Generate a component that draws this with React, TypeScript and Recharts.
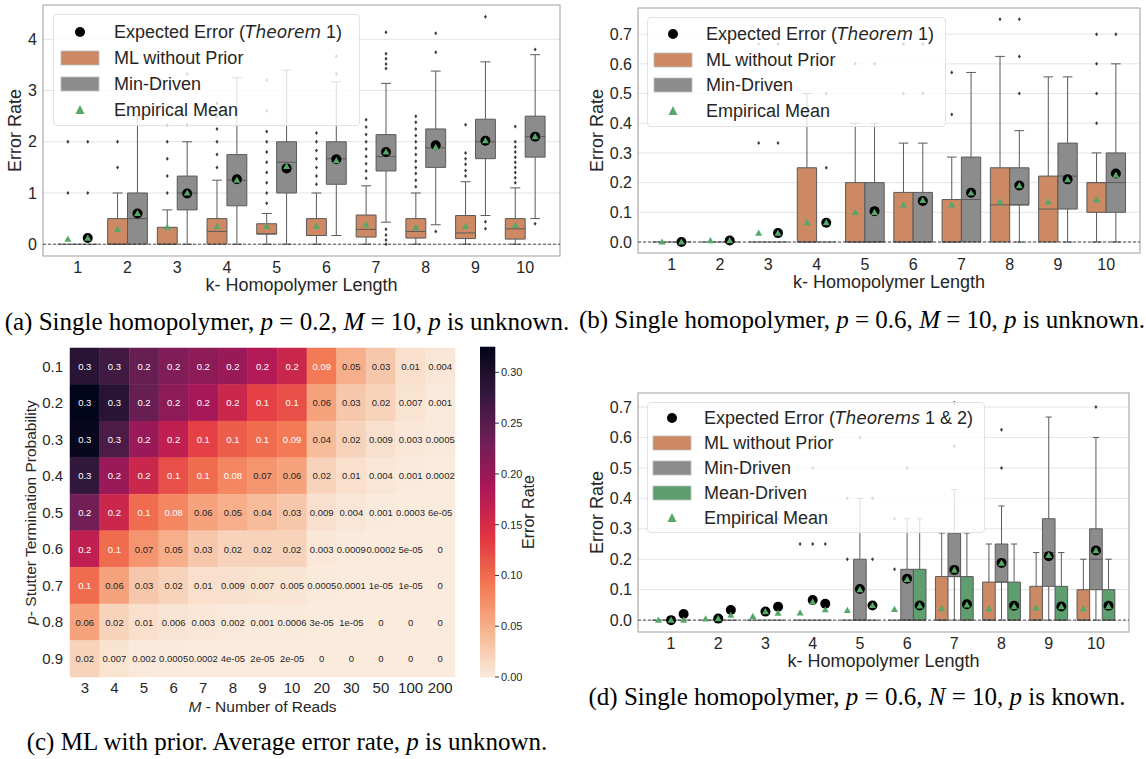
import React from 'react';
import {
  ComposedChart,
  XAxis,
  YAxis,
  CartesianGrid,
  Scatter,
  ReferenceArea,
  ReferenceLine,
  Label,
} from 'recharts';

const kLengths = [1, 2, 3, 4, 5, 6, 7, 8, 9, 10];

// each box row: [lower whisker, q1, median, q3, upper whisker]

// (a) p = 0.2, M = 10
const aMlBoxes = [
  [0, 0, 0, 0, 0], [0, 0, 0, 0.5, 1.0], [0, 0, 0, 0.33, 0.67], [0, 0, 0.25, 0.5, 1.25], [0, 0.2, 0.2, 0.4, 0.6],
  [0, 0.17, 0.17, 0.5, 1.0], [0, 0.14, 0.29, 0.57, 1.14], [0, 0.12, 0.25, 0.5, 1.0], [0, 0.11, 0.22, 0.56, 1.22], [0, 0.1, 0.3, 0.5, 1.1],
];
const aMlOutliers = [
  [1, 2], [1.5, 2, 2.5], [1, 1.33, 1.67, 2, 2.33], [1.5, 1.75, 2, 2.25, 2.5, 2.75],
  [0.8, 1.0, 1.2, 1.4, 1.6, 1.8, 2.0, 2.2, 2.6, 3.2],
  [1.17, 1.33, 1.5, 1.67, 1.83, 2.0, 2.17],
  [1.29, 1.43, 1.57, 1.71, 1.86, 2.0, 2.14, 2.29, 2.43],
  [1.12, 1.25, 1.38, 1.5, 1.62, 1.75, 1.88, 2.0, 2.12, 2.25, 2.38, 2.5],
  [1.33, 1.44, 1.56, 1.67, 1.78, 2.33],
  [1.2, 1.3, 1.4, 1.5, 1.6, 1.7, 1.8, 1.9, 2.0, 2.3],
];
const aMlMeans = [0.1, 0.29, 0.33, 0.35, 0.35, 0.35, 0.38, 0.33, 0.35, 0.37];
const aMinBoxes = [
  [0, 0, 0, 0, 0], [0, 0, 0.5, 1.0, 2.5], [0, 0.67, 1.0, 1.33, 2.0], [0, 0.75, 1.25, 1.75, 3.25], [0, 1.0, 1.6, 2.0, 3.4],
  [0.17, 1.17, 1.67, 2.0, 3.17], [0.43, 1.43, 1.71, 2.14, 3.14], [0.38, 1.5, 1.88, 2.25, 3.38], [0.56, 1.67, 2.0, 2.44, 3.56], [0.5, 1.7, 2.1, 2.5, 3.7],
];
const aMinOutliers = [
  [1, 2], [], [2.33, 3.33], [], [], [3.33, 3.67],
  [0.0, 0.08, 0.18, 0.29, 3.43, 3.52, 3.62, 3.72, 4.14],
  [0.25, 3.75, 4.12], [0.3, 0.44, 4.44], [0.4, 3.8],
];
const aMinMeans = [0.12, 0.6, 1.0, 1.25, 1.52, 1.63, 1.8, 1.89, 2.02, 2.1];
const aMinExpected = [0.12, 0.6, 0.99, 1.27, 1.48, 1.66, 1.8, 1.93, 2.02, 2.1];

// (b) p = 0.6, M = 10
const bMlBoxes = [
  [0, 0, 0, 0, 0], [0, 0, 0, 0, 0], [0, 0, 0, 0, 0], [0, 0, 0, 0.25, 0.5], [0, 0, 0, 0.2, 0.4],
  [0, 0, 0, 0.167, 0.333], [0, 0, 0, 0.143, 0.286], [0, 0, 0.125, 0.25, 0.625], [0, 0, 0.111, 0.222, 0.556], [0, 0.1, 0.2, 0.2, 0.3],
];
const bMlOutliers = [[], [], [0.333, 0.667], [], [0.6], [0.5, 0.667], [0.429, 0.571], [0.75], [], [0.4, 0.5, 0.6, 0.7]];
const bMlMeans = [0, 0.005, 0.03, 0.065, 0.1, 0.125, 0.125, 0.135, 0.135, 0.142];
const bMinBoxes = [
  [0, 0, 0, 0, 0], [0, 0, 0, 0, 0], [0, 0, 0, 0, 0], [0, 0, 0, 0, 0], [0, 0, 0, 0.2, 0.4],
  [0, 0, 0, 0.167, 0.333], [0, 0, 0.143, 0.286, 0.571], [0, 0.125, 0.125, 0.25, 0.375], [0, 0.111, 0.222, 0.333, 0.556], [0, 0.1, 0.2, 0.3, 0.6],
];
const bMinOutliers = [[], [], [0.333, 0.667], [0.25, 0.5], [0.6], [0.5, 0.667], [], [0.5, 0.625, 0.75], [], [0.7]];
const bMinMeans = [0, 0.005, 0.03, 0.065, 0.1, 0.14, 0.165, 0.19, 0.21, 0.225];
const bMinExpected = [0, 0.005, 0.03, 0.065, 0.104, 0.138, 0.166, 0.19, 0.211, 0.231];

// (d) p = 0.6, N = 10, p known
const dMlBoxes = [
  [0, 0, 0, 0, 0], [0, 0, 0, 0, 0], [0, 0, 0, 0, 0], [0, 0, 0, 0, 0], [0, 0, 0, 0, 0],
  [0, 0, 0, 0, 0], [0, 0, 0, 0.143, 0.286], [0, 0, 0, 0.125, 0.25], [0, 0, 0, 0.111, 0.222], [0, 0, 0, 0.1, 0.2],
];
const dMlOutliers = [[], [], [], [0.25], [0.2, 0.4], [0.167, 0.333], [], [], [], []];
const dMlMeans = [0, 0.004, 0.012, 0.024, 0.032, 0.035, 0.038, 0.037, 0.04, 0.038];
const dMinBoxes = [
  [0, 0, 0, 0, 0], [0, 0, 0, 0, 0], [0, 0, 0, 0, 0], [0, 0, 0, 0, 0], [0, 0, 0, 0.2, 0.4],
  [0, 0, 0, 0.167, 0.333], [0, 0.143, 0.143, 0.286, 0.429], [0, 0.125, 0.125, 0.25, 0.375], [0, 0.111, 0.222, 0.333, 0.667], [0, 0.1, 0.2, 0.3, 0.6],
];
const dMinOutliers = [[], [], [0.333], [0.25, 0.5], [0.6], [0.5], [0.571, 0.714], [0.5, 0.625], [], [0.7]];
const dMinMeans = [0, 0.005, 0.028, 0.06, 0.1, 0.134, 0.164, 0.187, 0.213, 0.228];
const dMinExpected = [0, 0.005, 0.028, 0.066, 0.102, 0.136, 0.165, 0.188, 0.21, 0.229];
const dMeanBoxes = [
  [0, 0, 0, 0, 0], [0, 0, 0, 0, 0], [0, 0, 0, 0, 0], [0, 0, 0, 0, 0], [0, 0, 0, 0, 0],
  [0, 0, 0, 0.167, 0.333], [0, 0, 0, 0.143, 0.286], [0, 0, 0, 0.125, 0.25], [0, 0, 0, 0.111, 0.222], [0, 0, 0, 0.1, 0.2],
];
const dMeanOutliers = [[], [], [0.333], [0.25], [0.2, 0.4], [], [], [], [], []];
const dMeanMeans = [0, 0.016, 0.023, 0.034, 0.048, 0.047, 0.05, 0.045, 0.044, 0.045];
const dMeanExpected = [0.02, 0.033, 0.044, 0.054, 0.048, 0.048, 0.052, 0.047, 0.045, 0.047];

// (c) heatmap, ML with prior
const stutterP = ['0.1', '0.2', '0.3', '0.4', '0.5', '0.6', '0.7', '0.8', '0.9'];
const readCounts = ['3', '4', '5', '6', '7', '8', '9', '10', '20', '30', '50', '100', '200'];
const heatRows = [
  [0.29, 0.27, 0.24, 0.22, 0.21, 0.2, 0.18, 0.16, 0.09, 0.05, 0.03, 0.01, 0.004],
  [0.325, 0.29, 0.24, 0.21, 0.19, 0.16, 0.13, 0.12, 0.06, 0.03, 0.02, 0.007, 0.001],
  [0.32, 0.26, 0.2, 0.17, 0.13, 0.11, 0.1, 0.09, 0.04, 0.02, 0.009, 0.003, 0.0005],
  [0.28, 0.2, 0.16, 0.12, 0.1, 0.08, 0.07, 0.06, 0.02, 0.01, 0.004, 0.001, 0.0002],
  [0.23, 0.16, 0.1, 0.08, 0.06, 0.05, 0.04, 0.03, 0.009, 0.004, 0.001, 0.0003, 0.00006],
  [0.17, 0.1, 0.07, 0.05, 0.03, 0.02, 0.02, 0.02, 0.003, 0.0009, 0.0002, 0.00005, 0],
  [0.1, 0.06, 0.03, 0.02, 0.01, 0.009, 0.007, 0.005, 0.0005, 0.0001, 0.00001, 0.00001, 0],
  [0.06, 0.02, 0.01, 0.006, 0.003, 0.002, 0.001, 0.0006, 0.00003, 0.00001, 0, 0, 0],
  [0.02, 0.007, 0.002, 0.0005, 0.0002, 0.00004, 0.00002, 0.00002, 0, 0, 0, 0, 0],
];
const colorbarTicks = [0, 0.05, 0.1, 0.15, 0.2, 0.25, 0.3];

const FONT = '"Liberation Sans", Arial, sans-serif';
const SERIF = '"Liberation Serif", "Times New Roman", serif';
const TEXT = '#262626';
const ORANGE = '#cc8963';
const GRAY = '#8c8c8c';
const GREEN = '#5f9e6e';
const MEAN_GREEN = '#55a868';
const LINE = '#5a5a5a';
const X_DOMAIN = [0.3, 10.7];

// rocket palette, dark -> light
const ROCKET = ['#03051a', '#35193e', '#701f57', '#ad1759', '#e13342', '#f37651', '#f6b48f', '#faebdd'];

function hexRgb(h: string) {
  return [1, 3, 5].map((i) => parseInt(h.slice(i, i + 2), 16));
}

function rocketR(v: number, vmax: number) {
  const t = Math.min(1, Math.max(0, 1 - v / vmax)) * (ROCKET.length - 1);
  const i = Math.min(ROCKET.length - 2, Math.floor(t));
  const f = t - i;
  const a = hexRgb(ROCKET[i]);
  const b = hexRgb(ROCKET[i + 1]);
  const c = a.map((x, j) => Math.round(x + (b[j] - x) * f));
  return `rgb(${c[0]},${c[1]},${c[2]})`;
}

function luminance(rgb: string) {
  const c = rgb.match(/\d+/g)!.map((x) => {
    const s = Number(x) / 255;
    return s <= 0.03928 ? s / 12.92 : Math.pow((s + 0.055) / 1.055, 2.4);
  });
  return 0.2126 * c[0] + 0.7152 * c[1] + 0.0722 * c[2];
}

function fmt1g(v: number) {
  if (v === 0) return '0';
  const e = Math.floor(Math.log10(v) + 1e-9);
  if (e < -4) {
    const m = Math.round(v / Math.pow(10, e));
    return `${m}e-${String(-e).padStart(2, '0')}`;
  }
  return String(Number(v.toPrecision(1)));
}

const Diamond = (p: any) => (
  <path d={`M${p.cx},${p.cy - 2} L${p.cx + 1.5},${p.cy} L${p.cx},${p.cy + 2} L${p.cx - 1.5},${p.cy} Z`} fill="#3d3d3d" />
);
const BlackDot = (p: any) => <circle cx={p.cx} cy={p.cy} r={5} fill="#000" />;
const Tri = (p: any) => (
  <path d={`M${p.cx},${p.cy - 3.6} L${p.cx + 3.5},${p.cy + 2.6} L${p.cx - 3.5},${p.cy + 2.6} Z`} fill={MEAN_GREEN} />
);
const Nothing = () => <g />;

const xLabel = (children: React.ReactNode, dy: number, size: number) => (props: any) => {
  const { x, y, width } = props.viewBox;
  return (
    <text x={x + width / 2} y={y + dy} textAnchor="middle" dominantBaseline="central" fontSize={size} fill={TEXT} fontFamily={FONT}>
      {children}
    </text>
  );
};

const yLabel = (children: React.ReactNode, dx: number, size: number) => (props: any) => {
  const { x, y, height } = props.viewBox;
  const cx = x + dx;
  const cy = y + height / 2;
  return (
    <text x={cx} y={cy} transform={`rotate(-90 ${cx} ${cy})`} textAnchor="middle" dominantBaseline="central" fontSize={size} fill={TEXT} fontFamily={FONT}>
      {children}
    </text>
  );
};

type Group = { color: string; offset: number; boxes: number[][]; outliers: number[][]; means: number[]; expected?: number[] };

function BoxPanel({ left, top, width, height, margin, yAxisWidth, yDomain, yTicks, yFmt, groups, boxWidth, yLabelDx }: any) {
  const hw = boxWidth / 2;
  const lines: React.ReactNode[] = [];
  const rects: React.ReactNode[] = [];
  const medians: React.ReactNode[] = [];
  (groups as Group[]).forEach((g, gi) => {
    g.boxes.forEach(([lo, q1, med, q3, hi], i) => {
      const x = kLengths[i] + g.offset;
      if (lo < q1) {
        lines.push(<ReferenceLine key={`wl${gi}-${i}`} segment={[{ x, y: lo }, { x, y: q1 }]} stroke={LINE} strokeWidth={1} />);
        lines.push(<ReferenceLine key={`cl${gi}-${i}`} segment={[{ x: x - hw / 2, y: lo }, { x: x + hw / 2, y: lo }]} stroke={LINE} strokeWidth={1} />);
      }
      if (hi > q3) {
        lines.push(<ReferenceLine key={`wh${gi}-${i}`} segment={[{ x, y: q3 }, { x, y: hi }]} stroke={LINE} strokeWidth={1} />);
        lines.push(<ReferenceLine key={`ch${gi}-${i}`} segment={[{ x: x - hw / 2, y: hi }, { x: x + hw / 2, y: hi }]} stroke={LINE} strokeWidth={1} />);
      }
      if (q3 > q1) {
        rects.push(
          <ReferenceArea key={`b${gi}-${i}`} x1={x - hw} x2={x + hw} y1={q1} y2={q3} fill={g.color} fillOpacity={1} stroke={LINE} strokeWidth={1} ifOverflow="visible" />
        );
      }
      medians.push(<ReferenceLine key={`m${gi}-${i}`} segment={[{ x: x - hw, y: med }, { x: x + hw, y: med }]} stroke={LINE} strokeWidth={1} />);
    });
  });
  const outlierPts = (groups as Group[]).flatMap((g) => g.outliers.flatMap((vals, i) => vals.map((v) => ({ x: kLengths[i] + g.offset, y: v }))));
  const expectedPts = (groups as Group[]).flatMap((g) => (g.expected || []).map((v, i) => ({ x: kLengths[i] + g.offset, y: v })));
  const meanPts = (groups as Group[]).flatMap((g) => g.means.map((v, i) => ({ x: kLengths[i] + g.offset, y: v })));

  return (
    <div style={{ position: 'absolute', left, top }}>
      <ComposedChart width={width} height={height} margin={margin}>
        <CartesianGrid vertical={false} stroke="#e4e4e4" strokeWidth={1} />
        <XAxis
          type="number"
          dataKey="x"
          domain={X_DOMAIN}
          ticks={kLengths}
          interval={0}
          allowDataOverflow
          axisLine={false}
          tickLine={false}
          tickSize={0}
          tickMargin={6}
          height={44}
          tick={{ fontSize: 16, fill: TEXT, fontFamily: FONT }}
        >
          <Label content={xLabel('k- Homopolymer Length', 29, 18)} />
        </XAxis>
        <YAxis
          type="number"
          dataKey="y"
          domain={yDomain}
          ticks={yTicks}
          tickFormatter={yFmt}
          allowDataOverflow
          axisLine={false}
          tickLine={false}
          tickSize={0}
          tickMargin={6}
          width={yAxisWidth}
          tick={{ fontSize: 16, fill: TEXT, fontFamily: FONT }}
        >
          <Label content={yLabel('Error Rate', yLabelDx, 18)} />
        </YAxis>
        {lines}
        {rects}
        {medians}
        <ReferenceLine y={0} stroke="#222" strokeDasharray="3 2" strokeWidth={0.8} />
        <ReferenceArea x1={X_DOMAIN[0]} x2={X_DOMAIN[1]} y1={yDomain[0]} y2={yDomain[1]} fill="none" stroke="#ababab" strokeWidth={1.2} ifOverflow="visible" />
        <Scatter data={outlierPts} shape={Diamond} isAnimationActive={false} />
        <Scatter data={expectedPts} shape={BlackDot} isAnimationActive={false} />
        <Scatter data={meanPts} shape={Tri} isAnimationActive={false} />
      </ComposedChart>
    </div>
  );
}

type LegendItem = { kind: 'dot' | 'patch' | 'tri'; color?: string; label: React.ReactNode };

function LegendBox({ left, top, width, height, firstRow, rowGap, markerX, textX, items }: any) {
  return (
    <div
      style={{
        position: 'absolute', left, top, width, height, boxSizing: 'border-box',
        background: 'rgba(255,255,255,0.8)', border: '1px solid #e2e2e2', borderRadius: 4,
        fontFamily: FONT, fontSize: 18, color: TEXT,
      }}
    >
      {(items as LegendItem[]).map((it, i) => (
        <div key={i} style={{ position: 'absolute', left: 0, top: firstRow + i * rowGap - 13, height: 26, width: '100%' }}>
          <svg style={{ position: 'absolute', left: markerX - 20, top: 3 }} width={40} height={20}>
            {it.kind === 'dot' && <circle cx={20} cy={10} r={5} fill="#000" />}
            {it.kind === 'patch' && <rect x={1} y={3} width={38} height={14} fill={it.color} stroke="#bdbdbd" strokeWidth={0.8} />}
            {it.kind === 'tri' && <path d="M20,5 L24.5,14 L15.5,14 Z" fill={MEAN_GREEN} />}
          </svg>
          <span style={{ position: 'absolute', left: textX, top: 0, lineHeight: '26px', whiteSpace: 'nowrap' }}>{it.label}</span>
        </div>
      ))}
    </div>
  );
}

function Heatmap() {
  const vmax = Math.max(...heatRows.flat());
  const cells = heatRows.flatMap((row, r) => row.map((v, c) => ({ x: c, y: r, v })));
  const barSteps = Array.from({ length: 110 }, (_, i) => i);
  const tickPts = colorbarTicks.map((v) => ({ x: 0.5, y: v }));
  const HeatText = (p: any) => {
    const fill = rocketR(p.payload.v, vmax);
    const color = luminance(fill) > 0.408 ? TEXT : '#ffffff';
    return (
      <text x={p.cx} y={p.cy} textAnchor="middle" dominantBaseline="central" fontSize={9.5} fill={color} fontFamily={FONT}>
        {fmt1g(p.payload.v)}
      </text>
    );
  };
  return (
    <>
      <div style={{ position: 'absolute', left: 0, top: 330 }}>
        <ComposedChart width={460} height={392} margin={{ top: 18, right: 5, bottom: 0, left: 0 }}>
          <XAxis
            type="number"
            dataKey="x"
            domain={[-0.5, readCounts.length - 0.5]}
            ticks={readCounts.map((_, i) => i)}
            tickFormatter={(i: number) => readCounts[i]}
            interval={0}
            axisLine={false}
            tickLine={false}
            tickSize={0}
            tickMargin={5}
            height={45}
            tick={{ fontSize: 15, fill: TEXT, fontFamily: FONT }}
          >
            <Label content={xLabel(<><tspan fontStyle="italic">M</tspan> - Number of Reads</>, 29, 15.5)} />
          </XAxis>
          <YAxis
            type="number"
            dataKey="y"
            reversed
            domain={[-0.5, stutterP.length - 0.5]}
            ticks={stutterP.map((_, i) => i)}
            tickFormatter={(i: number) => stutterP[i]}
            interval={0}
            axisLine={false}
            tickLine={false}
            tickSize={0}
            tickMargin={7}
            width={70}
            tick={{ fontSize: 15, fill: TEXT, fontFamily: FONT }}
          >
            <Label content={yLabel(<><tspan fontStyle="italic">p</tspan>- Stutter Termination Probability</>, 30, 15.5)} />
          </YAxis>
          {cells.map((c) => {
            const fill = rocketR(c.v, vmax);
            return (
              <ReferenceArea
                key={`h${c.x}-${c.y}`}
                x1={c.x - 0.5}
                x2={c.x + 0.5}
                y1={c.y - 0.5}
                y2={c.y + 0.5}
                fill={fill}
                fillOpacity={1}
                stroke={fill}
                strokeWidth={0.5}
                ifOverflow="visible"
              />
            );
          })}
          <Scatter data={cells} shape={HeatText} isAnimationActive={false} />
        </ComposedChart>
      </div>
      <div style={{ position: 'absolute', left: 480, top: 330 }}>
        <ComposedChart width={80} height={392} margin={{ top: 17, right: 0, bottom: 45, left: 0 }}>
          <XAxis type="number" dataKey="x" domain={[0, 1]} allowDataOverflow hide />
          <YAxis
            type="number"
            dataKey="y"
            orientation="right"
            domain={[0, vmax]}
            ticks={colorbarTicks}
            tickFormatter={(v: number) => v.toFixed(2)}
            allowDataOverflow
            axisLine={false}
            tickLine={{ stroke: '#333' }}
            tickSize={4}
            tickMargin={2}
            width={65}
            tick={{ fontSize: 11, fill: TEXT, fontFamily: FONT }}
          >
            <Label content={yLabel('Error Rate', 33, 16)} />
          </YAxis>
          {barSteps.map((s) => {
            const y1 = (vmax * s) / barSteps.length;
            const y2 = (vmax * (s + 1)) / barSteps.length;
            const fill = rocketR((y1 + y2) / 2, vmax);
            return (
              <ReferenceArea key={`cb${s}`} x1={0} x2={1} y1={y1} y2={y2} fill={fill} fillOpacity={1} stroke={fill} strokeWidth={0.6} ifOverflow="visible" />
            );
          })}
          <Scatter data={tickPts} shape={Nothing} isAnimationActive={false} />
        </ComposedChart>
      </div>
    </>
  );
}

function Caption({ cx, cy, children }: any) {
  return (
    <div
      style={{
        position: 'absolute', left: cx - 320, top: cy - 15, width: 640, textAlign: 'center',
        fontFamily: SERIF, fontSize: 25, lineHeight: '30px', whiteSpace: 'nowrap', color: '#000',
      }}
    >
      {children}
    </div>
  );
}

const I = ({ children }: any) => <span style={{ fontStyle: 'italic' }}>{children}</span>;
const MathIt = ({ children }: any) => <span style={{ fontStyle: 'italic', fontFamily: '"DejaVu Sans", sans-serif', fontSize: 17 }}>{children}</span>;

export default function App() {
  const legend3: LegendItem[] = [
    { kind: 'dot', label: <>Expected Error (<MathIt>Theorem</MathIt> 1)</> },
    { kind: 'patch', color: ORANGE, label: 'ML without Prior' },
    { kind: 'patch', color: GRAY, label: 'Min-Driven' },
    { kind: 'tri', label: 'Empirical Mean' },
  ];
  const legend4: LegendItem[] = [
    { kind: 'dot', label: <>Expected Error (<MathIt>Theorems</MathIt> 1 &amp; 2)</> },
    { kind: 'patch', color: ORANGE, label: 'ML without Prior' },
    { kind: 'patch', color: GRAY, label: 'Min-Driven' },
    { kind: 'patch', color: GREEN, label: 'Mean-Driven' },
    { kind: 'tri', label: 'Empirical Mean' },
  ];
  const fmt1 = (v: number) => v.toFixed(1);
  const tenths = [0, 0.1, 0.2, 0.3, 0.4, 0.5, 0.6, 0.7];

  return (
    <div style={{ position: 'absolute', left: 0, top: 0, width: 1146, height: 759, background: '#fff', overflow: 'hidden' }}>
      <BoxPanel
        left={0}
        top={0}
        width={580}
        height={300}
        margin={{ top: 5, right: 20, bottom: 0, left: 0 }}
        yAxisWidth={43}
        yDomain={[-0.23, 4.67]}
        yTicks={[0, 1, 2, 3, 4]}
        yFmt={(v: number) => String(v)}
        boxWidth={0.4}
        yLabelDx={15}
        groups={[
          { color: ORANGE, offset: -0.2, boxes: aMlBoxes, outliers: aMlOutliers, means: aMlMeans },
          { color: GRAY, offset: 0.2, boxes: aMinBoxes, outliers: aMinOutliers, means: aMinMeans, expected: aMinExpected },
        ]}
      />
      <LegendBox left={53} top={14} width={307} height={112} firstRow={17} rowGap={26} markerX={26} textX={60} items={legend3} />

      <BoxPanel
        left={580}
        top={0}
        width={566}
        height={297}
        margin={{ top: 8, right: 6, bottom: 0, left: 0 }}
        yAxisWidth={58}
        yDomain={[-0.037, 0.788]}
        yTicks={tenths}
        yFmt={fmt1}
        boxWidth={0.4}
        yLabelDx={17}
        groups={[
          { color: ORANGE, offset: -0.2, boxes: bMlBoxes, outliers: bMlOutliers, means: bMlMeans },
          { color: GRAY, offset: 0.2, boxes: bMinBoxes, outliers: bMinOutliers, means: bMinMeans, expected: bMinExpected },
        ]}
      />
      <LegendBox left={647} top={17} width={299} height={110} firstRow={16} rowGap={25.7} markerX={25} textX={58} items={legend3} />

      <Heatmap />

      <BoxPanel
        left={580}
        top={380}
        width={566}
        height={296}
        margin={{ top: 13, right: 17, bottom: 0, left: 0 }}
        yAxisWidth={58}
        yDomain={[-0.039, 0.746]}
        yTicks={tenths}
        yFmt={fmt1}
        boxWidth={0.8 / 3}
        yLabelDx={17}
        groups={[
          { color: ORANGE, offset: -0.8 / 3, boxes: dMlBoxes, outliers: dMlOutliers, means: dMlMeans },
          { color: GRAY, offset: 0, boxes: dMinBoxes, outliers: dMinOutliers, means: dMinMeans, expected: dMinExpected },
          { color: GREEN, offset: 0.8 / 3, boxes: dMeanBoxes, outliers: dMeanOutliers, means: dMeanMeans, expected: dMeanExpected },
        ]}
      />
      <LegendBox left={647} top={402} width={338} height={131} firstRow={15} rowGap={25} markerX={24} textX={56} items={legend4} />

      <Caption cx={287} cy={322}>
        (a) Single homopolymer, <I>p</I> = 0.2, <I>M</I> = 10, <I>p</I> is unknown.
      </Caption>
      <Caption cx={862} cy={320}>
        (b) Single homopolymer, <I>p</I> = 0.6, <I>M</I> = 10, <I>p</I> is unknown.
      </Caption>
      <Caption cx={287} cy={742}>
        (c) ML with prior. Average error rate, <I>p</I> is unknown.
      </Caption>
      <Caption cx={857} cy={697}>
        (d) Single homopolymer, <I>p</I> = 0.6, <I>N</I> = 10, <I>p</I> is known.
      </Caption>
    </div>
  );
}
